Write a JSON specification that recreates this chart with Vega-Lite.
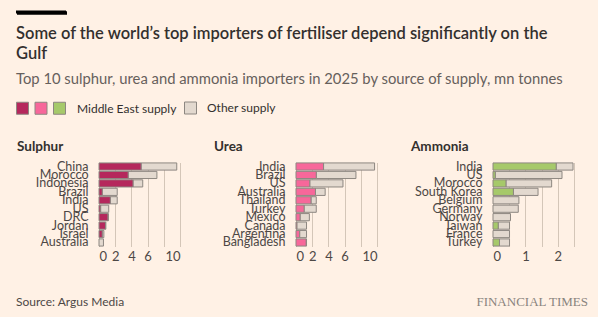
{
  "$schema": "https://vega.github.io/schema/vega-lite/v6.json",
  "background": "#fff1e5",
  "padding": {"left": 16, "top": 6.5, "right": 10, "bottom": 5},
  "config": {
    "font": "Lato",
    "view": {"stroke": null},
    "axis": {"labelFont": "Lato", "titleFont": "Lato"},
    "title": {"font": "Lato"},
    "legend": {"orient": "none", "direction": "horizontal", "symbolType": "square", "symbolSize": 144, "symbolStrokeColor": "#8d8781", "symbolStrokeWidth": 1, "symbolOpacity": 1, "labelFontSize": 12, "labelColor": "#33302e", "labelFont": "Lato", "titleFont": "Lato", "padding": 0}
  },
  "datasets": {
    "d": [
      {"p": "Sulphur", "c": "China", "r": 1, "me": 5.2, "tot": 9.6},
      {"p": "Sulphur", "c": "Morocco", "r": 2, "me": 3.6, "tot": 7.15},
      {"p": "Sulphur", "c": "Indonesia", "r": 3, "me": 4.2, "tot": 5.4},
      {"p": "Sulphur", "c": "Brazil", "r": 4, "me": 0.4, "tot": 2.25},
      {"p": "Sulphur", "c": "India", "r": 5, "me": 1.4, "tot": 2.25},
      {"p": "Sulphur", "c": "US", "r": 6, "me": 0.2, "tot": 1.2},
      {"p": "Sulphur", "c": "DRC", "r": 7, "me": 1.1, "tot": 1.15},
      {"p": "Sulphur", "c": "Jordan", "r": 8, "me": 0.8, "tot": 0.85},
      {"p": "Sulphur", "c": "Israel", "r": 9, "me": 0.4, "tot": 0.6},
      {"p": "Sulphur", "c": "Australia", "r": 10, "me": 0, "tot": 0.55},
      {"p": "Urea", "c": "India", "r": 1, "me": 3.4, "tot": 9.7},
      {"p": "Urea", "c": "Brazil", "r": 2, "me": 2.5, "tot": 7.4},
      {"p": "Urea", "c": "US", "r": 3, "me": 1.7, "tot": 5.8},
      {"p": "Urea", "c": "Australia", "r": 4, "me": 2.4, "tot": 3.6},
      {"p": "Urea", "c": "Thailand", "r": 5, "me": 1.85, "tot": 2.5},
      {"p": "Urea", "c": "Turkey", "r": 6, "me": 1.0, "tot": 2.5},
      {"p": "Urea", "c": "Mexico", "r": 7, "me": 0.5, "tot": 1.65},
      {"p": "Urea", "c": "Canada", "r": 8, "me": 0.1, "tot": 1.3},
      {"p": "Urea", "c": "Argentina", "r": 9, "me": 0.45, "tot": 1.3},
      {"p": "Urea", "c": "Bangladesh", "r": 10, "me": 1.25, "tot": 1.3},
      {"p": "Ammonia", "c": "India", "r": 1, "me": 1.95, "tot": 2.47},
      {"p": "Ammonia", "c": "US", "r": 2, "me": 0.07, "tot": 2.13},
      {"p": "Ammonia", "c": "Morocco", "r": 3, "me": 0.4, "tot": 1.81},
      {"p": "Ammonia", "c": "South Korea", "r": 4, "me": 0.63, "tot": 1.39},
      {"p": "Ammonia", "c": "Belgium", "r": 5, "me": 0, "tot": 0.8},
      {"p": "Ammonia", "c": "Germany", "r": 6, "me": 0, "tot": 0.78},
      {"p": "Ammonia", "c": "Norway", "r": 7, "me": 0, "tot": 0.54},
      {"p": "Ammonia", "c": "Taiwan", "r": 8, "me": 0.16, "tot": 0.51},
      {"p": "Ammonia", "c": "France", "r": 9, "me": 0, "tot": 0.51},
      {"p": "Ammonia", "c": "Turkey", "r": 10, "me": 0.2, "tot": 0.51}
    ]
  },
  "spacing": 52,
  "vconcat": [
    {
      "width": 50,
      "height": 3,
      "data": {"values": [{"x0": 0, "x1": 1, "y0": 0, "y1": 1, "s": "bar"}]},
      "layer": [
        {
          "mark": {"type": "rect", "color": "#000000"},
          "encoding": {
            "x": {"field": "x0", "type": "quantitative", "scale": {"domain": [0, 1], "nice": false, "zero": false}, "axis": null},
            "x2": {"field": "x1"},
            "y": {"field": "y0", "type": "quantitative", "scale": {"domain": [0, 1], "nice": false, "zero": false}, "axis": null},
            "y2": {"field": "y1"}
          }
        },
        {
          "mark": {"type": "point", "filled": true, "color": "#000000", "opacity": 0},
          "encoding": {
            "shape": {"field": "s", "type": "nominal",
              "scale": {"domain": ["bar"], "range": ["M-5,-0.35H5V0.35H-5Z"]},
              "legend": {"title": null, "legendX": 20, "legendY": -3.5, "symbolSize": 100, "symbolFillColor": "#000000", "symbolStrokeColor": "#000000", "symbolStrokeWidth": 0, "symbolOpacity": 1, "labelExpr": "''", "labelOffset": 0}}
          }
        }
      ],
      "title": {
        "text": ["Some of the world’s top importers of fertiliser depend significantly on the", "Gulf"],
        "subtitle": "Top 10 sulphur, urea and ammonia importers in 2025 by source of supply, mn tonnes",
        "orient": "bottom",
        "anchor": "start",
        "frame": "group",
        "offset": 12,
        "fontSize": 16.5,
        "fontWeight": 600,
        "lineHeight": 20,
        "color": "#33302e",
        "subtitleFontSize": 14.8,
        "subtitleColor": "#66605c",
        "subtitlePadding": 10
      }
    },
    {
      "spacing": 32,
      "vconcat": [
        {
          "spacing": 0,
          "hconcat": [
            {
              "width": 1, "height": 1,
              "data": {"values": []},
              "mark": "text",
              "encoding": {}
            },
            {
              "spacing": 116,
              "bounds": "flush",
              "resolve": {"scale": {"color": "shared", "fill": "shared", "x": "independent", "y": "independent"}},
              "hconcat": [
                {
                  "title": {"text": "Sulphur", "anchor": "start", "frame": "bounds", "fontSize": 13.5, "fontWeight": "bold", "color": "#33302e", "offset": 7},
                  "width": 81, "height": 84,
                  "data": {"name": "d"},
                  "transform": [{"filter": "datum.p == 'Sulphur'"}],
                  "encoding": {
                    "y": {"field": "c", "type": "nominal", "sort": {"field": "r", "op": "min"}, "title": null,
                      "scale": {"paddingInner": 0.15, "paddingOuter": 0.05},
                      "axis": {"ticks": false, "domain": false, "grid": false, "labelFontSize": 12.5, "labelColor": "#4d4845", "labelPadding": 11, "labelOverlap": false, "minExtent": 82, "maxExtent": 82, "labelLimit": 0}},
                    "x": {"field": "me", "type": "quantitative", "title": null,
                      "scale": {"domain": [0, 10], "nice": false},
                      "axis": {"values": [0, 2, 4, 6, 8, 10], "labelExpr": "datum.value == 8 ? '' : datum.label", "ticks": false, "domain": false, "grid": true, "gridColor": "#d4c6b8", "labelFontSize": 13, "labelColor": "#4d4845", "labelPadding": 4, "labelOverlap": false}}
                  },
                  "layer": [
                    {
                      "mark": {"type": "bar", "stroke": "#8d8781", "strokeWidth": 1},
                      "encoding": {
                        "x2": {"field": "tot"},
                        "fill": {"datum": "Other supply", "type": "nominal",
                          "scale": {"domain": ["Other supply"], "range": ["#e3d9cf"]},
                          "legend": {"title": null, "legendX": 168, "legendY": 91, "labelOffset": 10}}
                      }
                    },
                    {
                      "transform": [{"filter": "datum.me > 0"}],
                      "mark": {"type": "bar", "stroke": "#8d8781", "strokeWidth": 1},
                      "encoding": {
                        "x2": {"datum": 0},
                        "color": {"field": "p", "type": "nominal", "title": "Middle East supply",
                          "scale": {"domain": ["Sulphur", "Urea", "Ammonia"], "range": ["#b5285c", "#f7679a", "#a6c96a"]},
                          "legend": {"legendX": 0, "legendY": 91, "labelOffset": 0, "columnPadding": 1.5, "labelExpr": "''",
                            "titleOrient": "right", "titlePadding": 9, "titleFontSize": 12, "titleFontWeight": "normal", "titleColor": "#33302e", "titleBaseline": "middle", "titleAnchor": "middle"}}
                      }
                    }
                  ]
                },
                {
                  "title": {"text": "Urea", "anchor": "start", "frame": "bounds", "fontSize": 13.5, "fontWeight": "bold", "color": "#33302e", "offset": 7},
                  "width": 81, "height": 84,
                  "data": {"name": "d"},
                  "transform": [{"filter": "datum.p == 'Urea'"}],
                  "encoding": {
                    "y": {"field": "c", "type": "nominal", "sort": {"field": "r", "op": "min"}, "title": null,
                      "scale": {"paddingInner": 0.15, "paddingOuter": 0.05},
                      "axis": {"ticks": false, "domain": false, "grid": false, "labelFontSize": 12.5, "labelColor": "#4d4845", "labelPadding": 11, "labelOverlap": false, "minExtent": 82, "maxExtent": 82, "labelLimit": 0}},
                    "x": {"field": "me", "type": "quantitative", "title": null,
                      "scale": {"domain": [0, 10], "nice": false},
                      "axis": {"values": [0, 2, 4, 6, 8, 10], "labelExpr": "datum.value == 8 ? '' : datum.label", "ticks": false, "domain": false, "grid": true, "gridColor": "#d4c6b8", "labelFontSize": 13, "labelColor": "#4d4845", "labelPadding": 4, "labelOverlap": false}}
                  },
                  "layer": [
                    {
                      "mark": {"type": "bar", "stroke": "#8d8781", "strokeWidth": 1},
                      "encoding": {
                        "x2": {"field": "tot"},
                        "fill": {"datum": "Other supply", "type": "nominal",
                          "scale": {"domain": ["Other supply"], "range": ["#e3d9cf"]},
                          "legend": {"title": null, "legendX": 168, "legendY": 91, "labelOffset": 10}}
                      }
                    },
                    {
                      "transform": [{"filter": "datum.me > 0"}],
                      "mark": {"type": "bar", "stroke": "#8d8781", "strokeWidth": 1},
                      "encoding": {
                        "x2": {"datum": 0},
                        "color": {"field": "p", "type": "nominal", "title": "Middle East supply",
                          "scale": {"domain": ["Sulphur", "Urea", "Ammonia"], "range": ["#b5285c", "#f7679a", "#a6c96a"]},
                          "legend": {"legendX": 0, "legendY": 91, "labelOffset": 0, "columnPadding": 1.5, "labelExpr": "''",
                            "titleOrient": "right", "titlePadding": 9, "titleFontSize": 12, "titleFontWeight": "normal", "titleColor": "#33302e", "titleBaseline": "middle", "titleAnchor": "middle"}}
                      }
                    }
                  ]
                },
                {
                  "title": {"text": "Ammonia", "anchor": "start", "frame": "bounds", "fontSize": 13.5, "fontWeight": "bold", "color": "#33302e", "offset": 7},
                  "width": 81, "height": 84,
                  "data": {"name": "d"},
                  "transform": [{"filter": "datum.p == 'Ammonia'"}],
                  "encoding": {
                    "y": {"field": "c", "type": "nominal", "sort": {"field": "r", "op": "min"}, "title": null,
                      "scale": {"paddingInner": 0.15, "paddingOuter": 0.05},
                      "axis": {"ticks": false, "domain": false, "grid": false, "labelFontSize": 12.5, "labelColor": "#4d4845", "labelPadding": 11, "labelOverlap": false, "minExtent": 82, "maxExtent": 82, "labelLimit": 0}},
                    "x": {"field": "me", "type": "quantitative", "title": null,
                      "scale": {"domain": [0, 2.5], "nice": false},
                      "axis": {"values": [0, 0.5, 1, 1.5, 2, 2.5], "format": "~r", "labelExpr": "datum.value % 1 == 0 ? datum.label : ''", "ticks": false, "domain": false, "grid": true, "gridColor": "#d4c6b8", "labelFontSize": 13, "labelColor": "#4d4845", "labelPadding": 4, "labelOverlap": false}}
                  },
                  "layer": [
                    {
                      "mark": {"type": "bar", "stroke": "#8d8781", "strokeWidth": 1},
                      "encoding": {
                        "x2": {"field": "tot"},
                        "fill": {"datum": "Other supply", "type": "nominal",
                          "scale": {"domain": ["Other supply"], "range": ["#e3d9cf"]},
                          "legend": {"title": null, "legendX": 168, "legendY": 91, "labelOffset": 10}}
                      }
                    },
                    {
                      "transform": [{"filter": "datum.me > 0"}],
                      "mark": {"type": "bar", "stroke": "#8d8781", "strokeWidth": 1},
                      "encoding": {
                        "x2": {"datum": 0},
                        "color": {"field": "p", "type": "nominal", "title": "Middle East supply",
                          "scale": {"domain": ["Sulphur", "Urea", "Ammonia"], "range": ["#b5285c", "#f7679a", "#a6c96a"]},
                          "legend": {"legendX": 0, "legendY": 91, "labelOffset": 0, "columnPadding": 1.5, "labelExpr": "''",
                            "titleOrient": "right", "titlePadding": 9, "titleFontSize": 12, "titleFontWeight": "normal", "titleColor": "#33302e", "titleBaseline": "middle", "titleAnchor": "middle"}}
                      }
                    }
                  ]
                }
              ]
            }
          ]
        },
        {
          "spacing": 0,
          "hconcat": [
            {
              "width": 280, "height": 1,
              "data": {"values": []},
              "mark": "text",
              "encoding": {},
              "title": {"text": "Source: Argus Media", "anchor": "start", "frame": "group", "fontSize": 12, "fontWeight": "normal", "color": "#4d4845", "offset": 2}
            },
            {
              "width": 292, "height": 1,
              "data": {"values": []},
              "mark": "text",
              "encoding": {},
              "title": {"text": "FINANCIAL TIMES", "anchor": "end", "frame": "group", "font": "Liberation Serif", "fontSize": 13, "fontWeight": "normal", "color": "#8a847e", "offset": 2}
            }
          ]
        }
      ]
    }
  ]
}
